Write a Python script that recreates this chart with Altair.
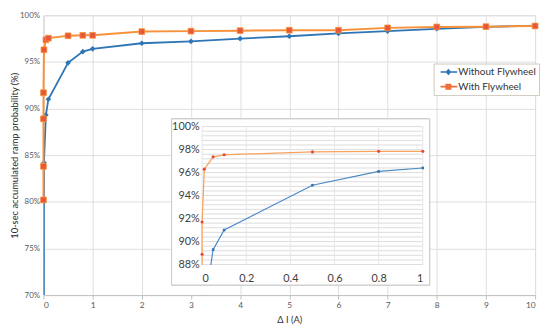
import altair as alt
import pandas as pd

series_names = ["Without Flywheel", "With Flywheel"]

# Without Flywheel (blue)
x_without = [0, 0.01, 0.05, 0.1, 0.5, 0.8, 1, 2, 3, 4, 5, 6, 7, 8, 9, 10]
y_without = [0.0, 0.842, 0.893, 0.910, 0.949, 0.961, 0.964, 0.970, 0.972, 0.975,
             0.9775, 0.9805, 0.983, 0.9855, 0.9875, 0.989]

# With Flywheel (orange)
x_with = [0, 0, 0, 0, 0.01, 0.05, 0.1, 0.5, 0.8, 1, 2, 3, 4, 5, 6, 7, 8, 9, 10]
y_with = [0.802, 0.838, 0.889, 0.917, 0.963, 0.9737, 0.9755, 0.978, 0.9785, 0.9785,
          0.9825, 0.983, 0.9835, 0.984, 0.984, 0.9865, 0.9875, 0.9878, 0.9885]

main_x_ticks = [0, 1, 2, 3, 4, 5, 6, 7, 8, 9, 10]
main_y_ticks = [0.70, 0.75, 0.80, 0.85, 0.90, 0.95, 1.00]
inset_x_ticks = [0, 0.2, 0.4, 0.6, 0.8, 1.0]
inset_y_ticks = [0.88, 0.90, 0.92, 0.94, 0.96, 0.98, 1.00]
inset_y_grid = [round(0.88 + 0.004 * i, 4) for i in range(31)]

BLUE = "#2E75B6"
ORANGE = "#F7923A"
RED = "#E8563C"
FONT = "Lato"

df_blue = pd.DataFrame({"x": x_without, "y": y_without, "i": range(len(x_without))})
df_orange = pd.DataFrame({"x": x_with, "y": y_with, "i": range(len(x_with))})

# ---------------- main chart ----------------
mx = alt.Scale(domain=[0, 10], nice=False, zero=False)
my = alt.Scale(domain=[0.70, 1.00], nice=False, zero=False)

x_axis = alt.Axis(values=main_x_ticks, grid=True, gridColor="#dedede", domainColor="#bfbfbf",
                  tickColor="#bfbfbf", tickSize=4, labelFontSize=8.5, labelColor="#595959",
                  labelPadding=2, title="Δ I (A)", titleFontSize=9.5, titleColor="#333333",
                  titleFontWeight="normal", titlePadding=5, labelFont=FONT, titleFont=FONT)
y_axis = alt.Axis(values=main_y_ticks, format=".0%", grid=True, gridColor="#dedede",
                  domainColor="#d9d9d9", ticks=False, labelFontSize=8, labelColor="#595959",
                  labelPadding=4, title="10-sec accumulated ramp probability (%)",
                  titleFontSize=9.5, titleColor="#262626", titleFontWeight="normal",
                  titlePadding=0, labelFont=FONT, titleFont=FONT)

blue_line = alt.Chart(df_blue).mark_line(color=BLUE, strokeWidth=1.8, clip=True).encode(
    x=alt.X("x:Q", scale=mx, axis=x_axis),
    y=alt.Y("y:Q", scale=my, axis=y_axis),
    order="i:Q",
)
blue_pts = alt.Chart(df_blue).transform_filter("datum.y >= 0.7").mark_point(
    shape="diamond", filled=True, size=32, color=BLUE, opacity=1).encode(
    x=alt.X("x:Q", scale=mx), y=alt.Y("y:Q", scale=my))
orange_line = alt.Chart(df_orange).mark_line(color=ORANGE, strokeWidth=2).encode(
    x=alt.X("x:Q", scale=mx), y=alt.Y("y:Q", scale=my), order="i:Q")
orange_pts = alt.Chart(df_orange).mark_square(
    size=34, fill=RED, stroke=ORANGE, strokeWidth=0.8, opacity=1).encode(
    x=alt.X("x:Q", scale=mx), y=alt.Y("y:Q", scale=my))

path_blue = "M-0.27,-0.13L2.82,-0.13L2.82,0.13L-0.27,0.13Z M1.18,-0.6L1.73,0L1.18,0.6L0.63,0Z"
path_orange = "M-0.27,-0.16L2.82,-0.16L2.82,0.16L-0.27,0.16Z M0.63,-0.55L1.73,-0.55L1.73,0.55L0.63,0.55Z"

legend = alt.Legend(title=None, orient="none", legendX=396, legendY=49, padding=3,
                    rowPadding=4, labelOffset=11, symbolSize=121, strokeColor="#cfc9bd",
                    fillColor="white", labelFontSize=10, labelColor="#333333",
                    labelFont=FONT, symbolStrokeWidth=0)
df_leg = pd.DataFrame({"series": series_names})
legend_layer = alt.Chart(df_leg).mark_point(filled=True, size=121, opacity=1).encode(
    x=alt.value(-60), y=alt.value(-60),
    color=alt.Color("series:N", scale=alt.Scale(domain=series_names, range=[BLUE, "#EE6F3A"]),
                    legend=legend),
    shape=alt.Shape("series:N", scale=alt.Scale(domain=series_names, range=[path_blue, path_orange]),
                    legend=legend),
)

main = alt.layer(blue_line, blue_pts, orange_line, orange_pts, legend_layer)

# ---------------- inset ----------------
ix = alt.Scale(domain=[0, 1], range=[161, 385], nice=False, zero=False)
iy = alt.Scale(domain=[0.88, 1.00], range=[253, 113], nice=False, zero=False)

inset_y_axis = alt.Axis(orient="left", offset=-161, values=inset_y_ticks, format=".0%",
                        grid=False, domain=False, ticks=False, labelFontSize=11,
                        labelColor="#404040", labelPadding=3, title=None, zindex=1,
                        labelFont=FONT)
inset_x_axis = alt.Axis(orient="bottom", offset=-31, values=inset_x_ticks, format="~g",
                        grid=False, domain=False, ticks=False, labelFontSize=11,
                        labelColor="#404040", labelPadding=8, title=None, zindex=1,
                        labelFont=FONT)

box_fill = alt.Chart(df_leg).mark_rect(fill="white", stroke=None).encode(
    x=alt.value(130), x2=alt.value(392), y=alt.value(105), y2=alt.value(274))

df_hgrid = pd.DataFrame({"y": inset_y_grid, "x0": 0.0, "x1": 1.0})
df_vgrid = pd.DataFrame({"x": inset_x_ticks, "y0": 0.88, "y1": 1.0})

hgrid = alt.Chart(df_hgrid).mark_rule(color="#dcdcdc", strokeWidth=1).encode(
    x=alt.X("x0:Q", scale=ix, axis=inset_x_axis), x2="x1:Q",
    y=alt.Y("y:Q", scale=iy, axis=inset_y_axis))
vgrid = alt.Chart(df_vgrid).mark_rule(color="#e6e6e6", strokeWidth=1).encode(
    x=alt.X("x:Q", scale=ix), y=alt.Y("y0:Q", scale=iy), y2="y1:Q")

in_orange_line = alt.Chart(df_orange).transform_filter("datum.x <= 1").mark_line(
    color="#F8A35C", strokeWidth=1.3, clip=True).encode(
    x=alt.X("x:Q", scale=ix), y=alt.Y("y:Q", scale=iy), order="i:Q")
in_orange_pts = alt.Chart(df_orange).transform_filter("datum.x <= 1 && datum.y >= 0.88").mark_circle(
    size=10, color="#E8453C", opacity=1).encode(
    x=alt.X("x:Q", scale=ix), y=alt.Y("y:Q", scale=iy))
in_blue_line = alt.Chart(df_blue).transform_filter("datum.x <= 1").mark_line(
    color="#4A89C4", strokeWidth=1.2, clip=True).encode(
    x=alt.X("x:Q", scale=ix), y=alt.Y("y:Q", scale=iy), order="i:Q")
in_blue_pts = alt.Chart(df_blue).transform_filter("datum.x <= 1 && datum.y >= 0.88").mark_square(
    size=7, color=BLUE, opacity=1).encode(
    x=alt.X("x:Q", scale=ix), y=alt.Y("y:Q", scale=iy))

cover = alt.Chart(df_leg).mark_rect(fill="white", stroke=None).encode(
    x=alt.value(150), x2=alt.value(182), y=alt.value(253.6), y2=alt.value(283.5))
box_stroke = alt.Chart(df_leg).mark_rect(filled=False, stroke="#cccccc", strokeWidth=1).encode(
    x=alt.value(130), x2=alt.value(392), y=alt.value(105), y2=alt.value(274))

inset = alt.layer(box_fill, hgrid, vgrid, in_orange_line, in_orange_pts, in_blue_line,
                  in_blue_pts, cover, box_stroke)

chart = alt.layer(main, inset).resolve_scale(
    x="independent", y="independent"
).properties(
    width=499, height=284,
    autosize=alt.AutoSizeParams(type="none"),
    padding={"left": 36, "top": 5, "right": 7, "bottom": 29},
).configure_view(stroke=None).configure(font=FONT)

chart.save("out.html", embed_options={"renderer": "svg", "actions": False})
